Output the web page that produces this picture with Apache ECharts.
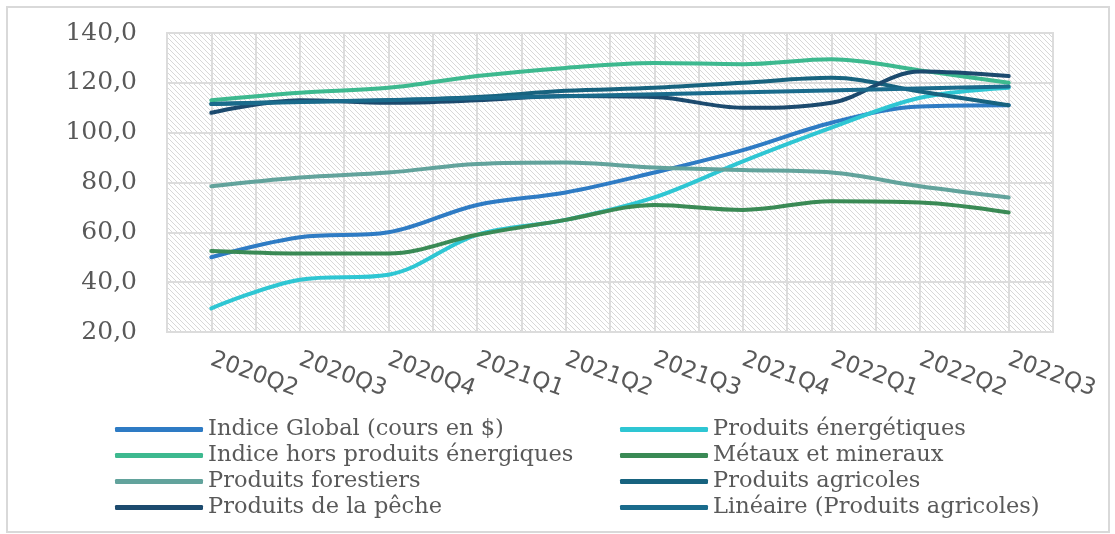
<!DOCTYPE html>
<html>
<head>
<meta charset="utf-8">
<script src="https://cdn.jsdelivr.net/npm/echarts@6/dist/echarts.min.js"></script>
<style>
  html, body { margin: 0; padding: 0; background: #fff; }
  #main { width: 1115px; height: 534px; }
</style>
</head>
<body>
<div id="main"></div>
<script>
const quarters = ["2020Q2", "2020Q3", "2020Q4", "2021Q1", "2021Q2", "2021Q3", "2021Q4", "2022Q1", "2022Q2", "2022Q3"];
const yTicks = [20, 40, 60, 80, 100, 120, 140];

const indiceGlobal = [50, 58, 60, 71, 76, 84, 93, 104, 110.5, 111];
const energetiques = [29.5, 41, 43, 59, 65, 74, 88.5, 102, 114, 118];
const horsEnergie = [113, 116, 118, 122.7, 126, 128, 127.5, 129.5, 125, 120];
const metaux = [52.5, 51.5, 51.5, 59, 65, 71, 69, 72.5, 72, 68];
const forestiers = [78.5, 82, 84, 87.4, 88, 86, 85, 84, 78.5, 74];
const agricoles = [111.5, 112.5, 113, 114.3, 116.8, 118, 120, 122, 116.5, 111];
const peche = [108, 113, 112, 113, 114.7, 114.3, 110, 112, 124.5, 122.7];
// trend line: only its two ends are read, the line joins them
const lineaire = [111.5, null, null, null, null, null, null, null, null, 118.5];

const names = [
  "Indice Global (cours en $)",
  "Produits énergétiques",
  "Indice hors produits énergiques",
  "Métaux et mineraux",
  "Produits forestiers",
  "Produits agricoles",
  "Produits de la pêche",
  "Linéaire (Produits agricoles)",
];
const colors = ["#2E7BC4", "#2EC6D3", "#3DB98F", "#3A8A55", "#62A39C", "#17637F", "#1C4A6E", "#1A6B8C"];
const values = [indiceGlobal, energetiques, horsEnergie, metaux, forestiers, agricoles, peche, lineaire];

// diagonal hatch for the plot background
const tile = document.createElement("canvas");
tile.width = 5;
tile.height = 5;
const tc = tile.getContext("2d");
tc.fillStyle = "#ffffff";
tc.fillRect(0, 0, 5, 5);
tc.strokeStyle = "#d8d8d8";
tc.lineWidth = 1;
[-5, 0, 5].forEach((k) => {
  tc.beginPath();
  tc.moveTo(k, 0);
  tc.lineTo(k + 5, 5);
  tc.stroke();
});

const textColor = "#595959";
const gridColor = "#dcdcdc";

const legendBase = {
  orient: "vertical",
  icon: "roundRect",
  itemWidth: 88,
  itemHeight: 5,
  itemGap: 3,
  textStyle: { color: textColor, fontFamily: "DejaVu Serif", fontSize: 22.5, lineHeight: 23 },
};

const myChart = echarts.init(document.getElementById("main"));
myChart.setOption({
  animation: false,
  color: colors,
  graphic: [
    {
      type: "rect",
      shape: { x: 7, y: 7, width: 1102, height: 525 },
      style: { fill: "none", stroke: "#d9d9d9", lineWidth: 2 },
      silent: true,
    },
  ],
  grid: {
    left: 167,
    right: 62,
    top: 33,
    bottom: 202,
    show: true,
    backgroundColor: { image: tile, repeat: "repeat" },
    borderColor: gridColor,
    borderWidth: 2,
  },
  legend: [
    Object.assign({}, legendBase, { left: 110, top: 413, data: [names[0], names[2], names[4], names[6]] }),
    Object.assign({}, legendBase, { left: 615, top: 413, data: [names[1], names[3], names[5], names[7]] }),
  ],
  xAxis: [
    {
      type: "category",
      data: quarters,
      boundaryGap: true,
      axisTick: { show: false },
      axisLine: { lineStyle: { color: gridColor, width: 2 } },
      splitLine: { show: false },
      axisLabel: {
        rotate: -20,
        margin: 27,
        color: textColor,
        fontFamily: "DejaVu Sans",
        fontSize: 23,
        interval: 0,
      },
    },
    {
      type: "value",
      min: 0,
      max: 20,
      interval: 1,
      position: "top",
      axisLine: { show: false },
      axisTick: { show: false },
      axisLabel: { show: false },
      splitLine: { show: true, lineStyle: { color: gridColor, width: 2 } },
    },
  ],
  yAxis: {
    type: "value",
    min: yTicks[0],
    max: yTicks[yTicks.length - 1],
    interval: 20,
    axisLine: { show: false },
    axisTick: { show: false },
    axisLabel: {
      margin: 30,
      color: textColor,
      fontFamily: "DejaVu Serif",
      fontSize: 25,
      formatter: (v) => v.toFixed(1).replace(".", ","),
    },
    splitLine: { lineStyle: { color: gridColor, width: 2 } },
  },
  series: names.map((name, i) => ({
    name: name,
    type: "line",
    xAxisIndex: 0,
    data: values[i],
    smooth: i === 7 ? false : 0.35,
    connectNulls: true,
    symbol: "none",
    lineStyle: { width: 4, color: colors[i], cap: "round" },
    itemStyle: { color: colors[i] },
  })),
});
</script>
</body>
</html>
